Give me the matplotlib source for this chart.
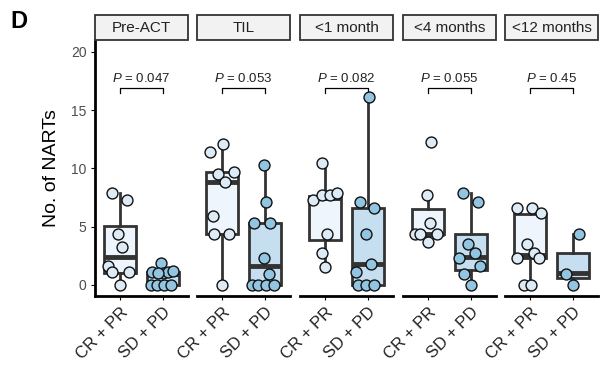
import matplotlib.pyplot as plt
from matplotlib.patches import Rectangle

plt.rcParams['font.family'] = ['Liberation Sans', 'DejaVu Sans']
plt.rcParams['mathtext.fontset'] = 'custom'
plt.rcParams['mathtext.it'] = 'Liberation Sans:italic'
plt.rcParams['mathtext.rm'] = 'Liberation Sans'

panels = ['Pre-ACT', 'TIL', '<1 month', '<4 months', '<12 months']
groups = ['CR + PR', 'SD + PD']
pvals = ['0.047', '0.053', '0.082', '0.055', '0.45']

# points (values, horizontal jitter)
cr_vals = [
    [7.9, 7.3, 4.4, 3.3, 1.6, 1.1, 1.1, 0],
    [11.4, 12.1, 9.5, 9.7, 8.8, 5.9, 4.4, 4.4, 0],
    [10.5, 7.3, 7.7, 7.7, 7.9, 4.4, 2.7, 1.5],
    [12.3, 7.7, 5.3, 4.4, 4.4, 4.4, 3.7],
    [6.6, 6.6, 6.2, 3.5, 2.7, 2.3, 2.3, 0, 0],
]
cr_jit = [
    [-0.18, 0.16, -0.05, 0.05, -0.28, -0.18, 0.21, 0],
    [-0.28, 0.02, -0.1, 0.29, 0.08, -0.2, -0.18, 0.16, 0],
    [-0.08, -0.27, -0.08, 0.12, 0.29, 0.04, -0.08, 0],
    [0.08, -0.02, 0.04, -0.31, -0.18, 0.2, 0],
    [-0.31, 0.05, 0.26, -0.06, 0.1, -0.29, 0.2, -0.13, 0.02],
]
sd_vals = [
    [1.9, 1.1, 1.0, 1.1, 1.2, 1.0, 0, 0, 0, 0],
    [10.3, 7.1, 5.3, 5.3, 2.3, 0.9, 0, 0, 0, 0],
    [16.1, 7.1, 6.6, 4.4, 1.8, 1.1, 0, 0, 0],
    [7.9, 7.1, 3.5, 2.3, 2.7, 1.6, 0.9, 0],
    [4.4, 0.9, 0],
]
sd_jit = [
    [-0.05, -0.26, 0.0, 0.12, 0.23, -0.12, -0.28, -0.14, 0.02, 0.19],
    [-0.02, 0.02, -0.26, 0.12, -0.02, 0.09, -0.31, -0.16, 0.02, 0.2],
    [0.02, -0.18, 0.13, -0.05, 0.08, -0.29, -0.23, -0.04, 0.15],
    [-0.19, 0.16, -0.06, -0.29, 0.1, 0.2, -0.17, 0],
    [0.14, -0.16, 0],
]
# box stats: whislo, q1, med, q3, whishi
cr_box = [
    [0, 1.06, 2.4, 5.1, 7.9],
    [0, 4.4, 8.8, 9.7, 12.1],
    [1.5, 3.9, 7.5, 7.6, 10.5],
    [3.7, 4.4, 4.4, 6.5, 7.7],
    [0, 2.3, 2.6, 6.1, 6.6],
]
sd_box = [
    [0, 0, 0.9, 1.1, 1.9],
    [0, 0, 1.6, 5.3, 10.3],
    [0, 0, 1.8, 6.6, 16.1],
    [0, 1.3, 2.4, 4.4, 7.9],
    [0, 0.6, 1.0, 2.7, 4.4],
]

box_fill = ['#EEF5FC', '#C6DFF0']
pt_fill = ['#DDEBF7', '#92C5E2']
dark = '#333333'

W, H = 600, 367
fig = plt.figure(figsize=(6, 3.67), dpi=100)
lefts = [95, 197, 300, 403, 505]
pw = 93
top, bot = 40, 296

for i, name in enumerate(panels):
    ax = fig.add_axes([lefts[i] / W, (H - bot) / H, pw / W, (bot - top) / H])
    stats = []
    for b in (cr_box[i], sd_box[i]):
        stats.append(dict(whislo=b[0], q1=b[1], med=b[2], q3=b[3], whishi=b[4]))
    bp = ax.bxp(stats, positions=[1, 2], widths=0.75, showfliers=False,
                patch_artist=True, showcaps=False,
                boxprops=dict(edgecolor=dark, linewidth=2),
                whiskerprops=dict(color=dark, linewidth=2),
                medianprops=dict(color=dark, linewidth=3.5, solid_capstyle='butt'))
    for patch, c in zip(bp['boxes'], box_fill):
        patch.set_facecolor(c)
    for g, (vals, jit) in enumerate([(cr_vals[i], cr_jit[i]), (sd_vals[i], sd_jit[i])]):
        ax.scatter([g + 1 + j for j in jit], vals, s=62, facecolor=pt_fill[g],
                   edgecolor='#111111', linewidth=1.0, zorder=3, clip_on=False)
    # p-value bracket
    ax.plot([1, 1, 2, 2], [16.5, 16.9, 16.9, 16.5], color='black', lw=0.9)
    ax.text(1.5, 17.2, '$\\mathit{P}$ = ' + pvals[i], ha='center', va='bottom',
            fontsize=9.5, color='#222222')
    ax.set_xlim(0.42, 2.58)
    ax.set_ylim(-0.95, 21.03)
    ax.set_xticks([1, 2])
    ax.set_xticklabels(groups, rotation=45, ha='right', rotation_mode='anchor',
                       fontsize=12, color='#222222')
    for s in ['top', 'right']:
        ax.spines[s].set_visible(False)
    ax.spines['bottom'].set_linewidth(2)
    ax.tick_params(axis='x', length=3, width=0.8, pad=3)
    if i == 0:
        ax.spines['left'].set_linewidth(2)
        ax.set_yticks([0, 5, 10, 15, 20])
        ax.tick_params(axis='y', length=3, width=0.8, labelsize=10, labelcolor='#4D4D4D', pad=3)
        ax.set_ylabel('No. of NARTs', fontsize=14, labelpad=8)
    else:
        ax.spines['left'].set_visible(False)
        ax.set_yticks([])
    # strip label
    fig.patches.append(Rectangle((lefts[i] / W, (H - 40) / H), pw / W, 25 / H,
                                 transform=fig.transFigure, facecolor='#F2F2F2',
                                 edgecolor='#333333', linewidth=1.3))
    fig.text((lefts[i] + pw / 2) / W, (H - 27.5) / H, name, ha='center', va='center',
             fontsize=11, color='#222222')

fig.text(10 / W, (H - 22) / H, 'D', fontsize=17, fontweight='bold', va='center')

fig.savefig('out.png', dpi=100)
